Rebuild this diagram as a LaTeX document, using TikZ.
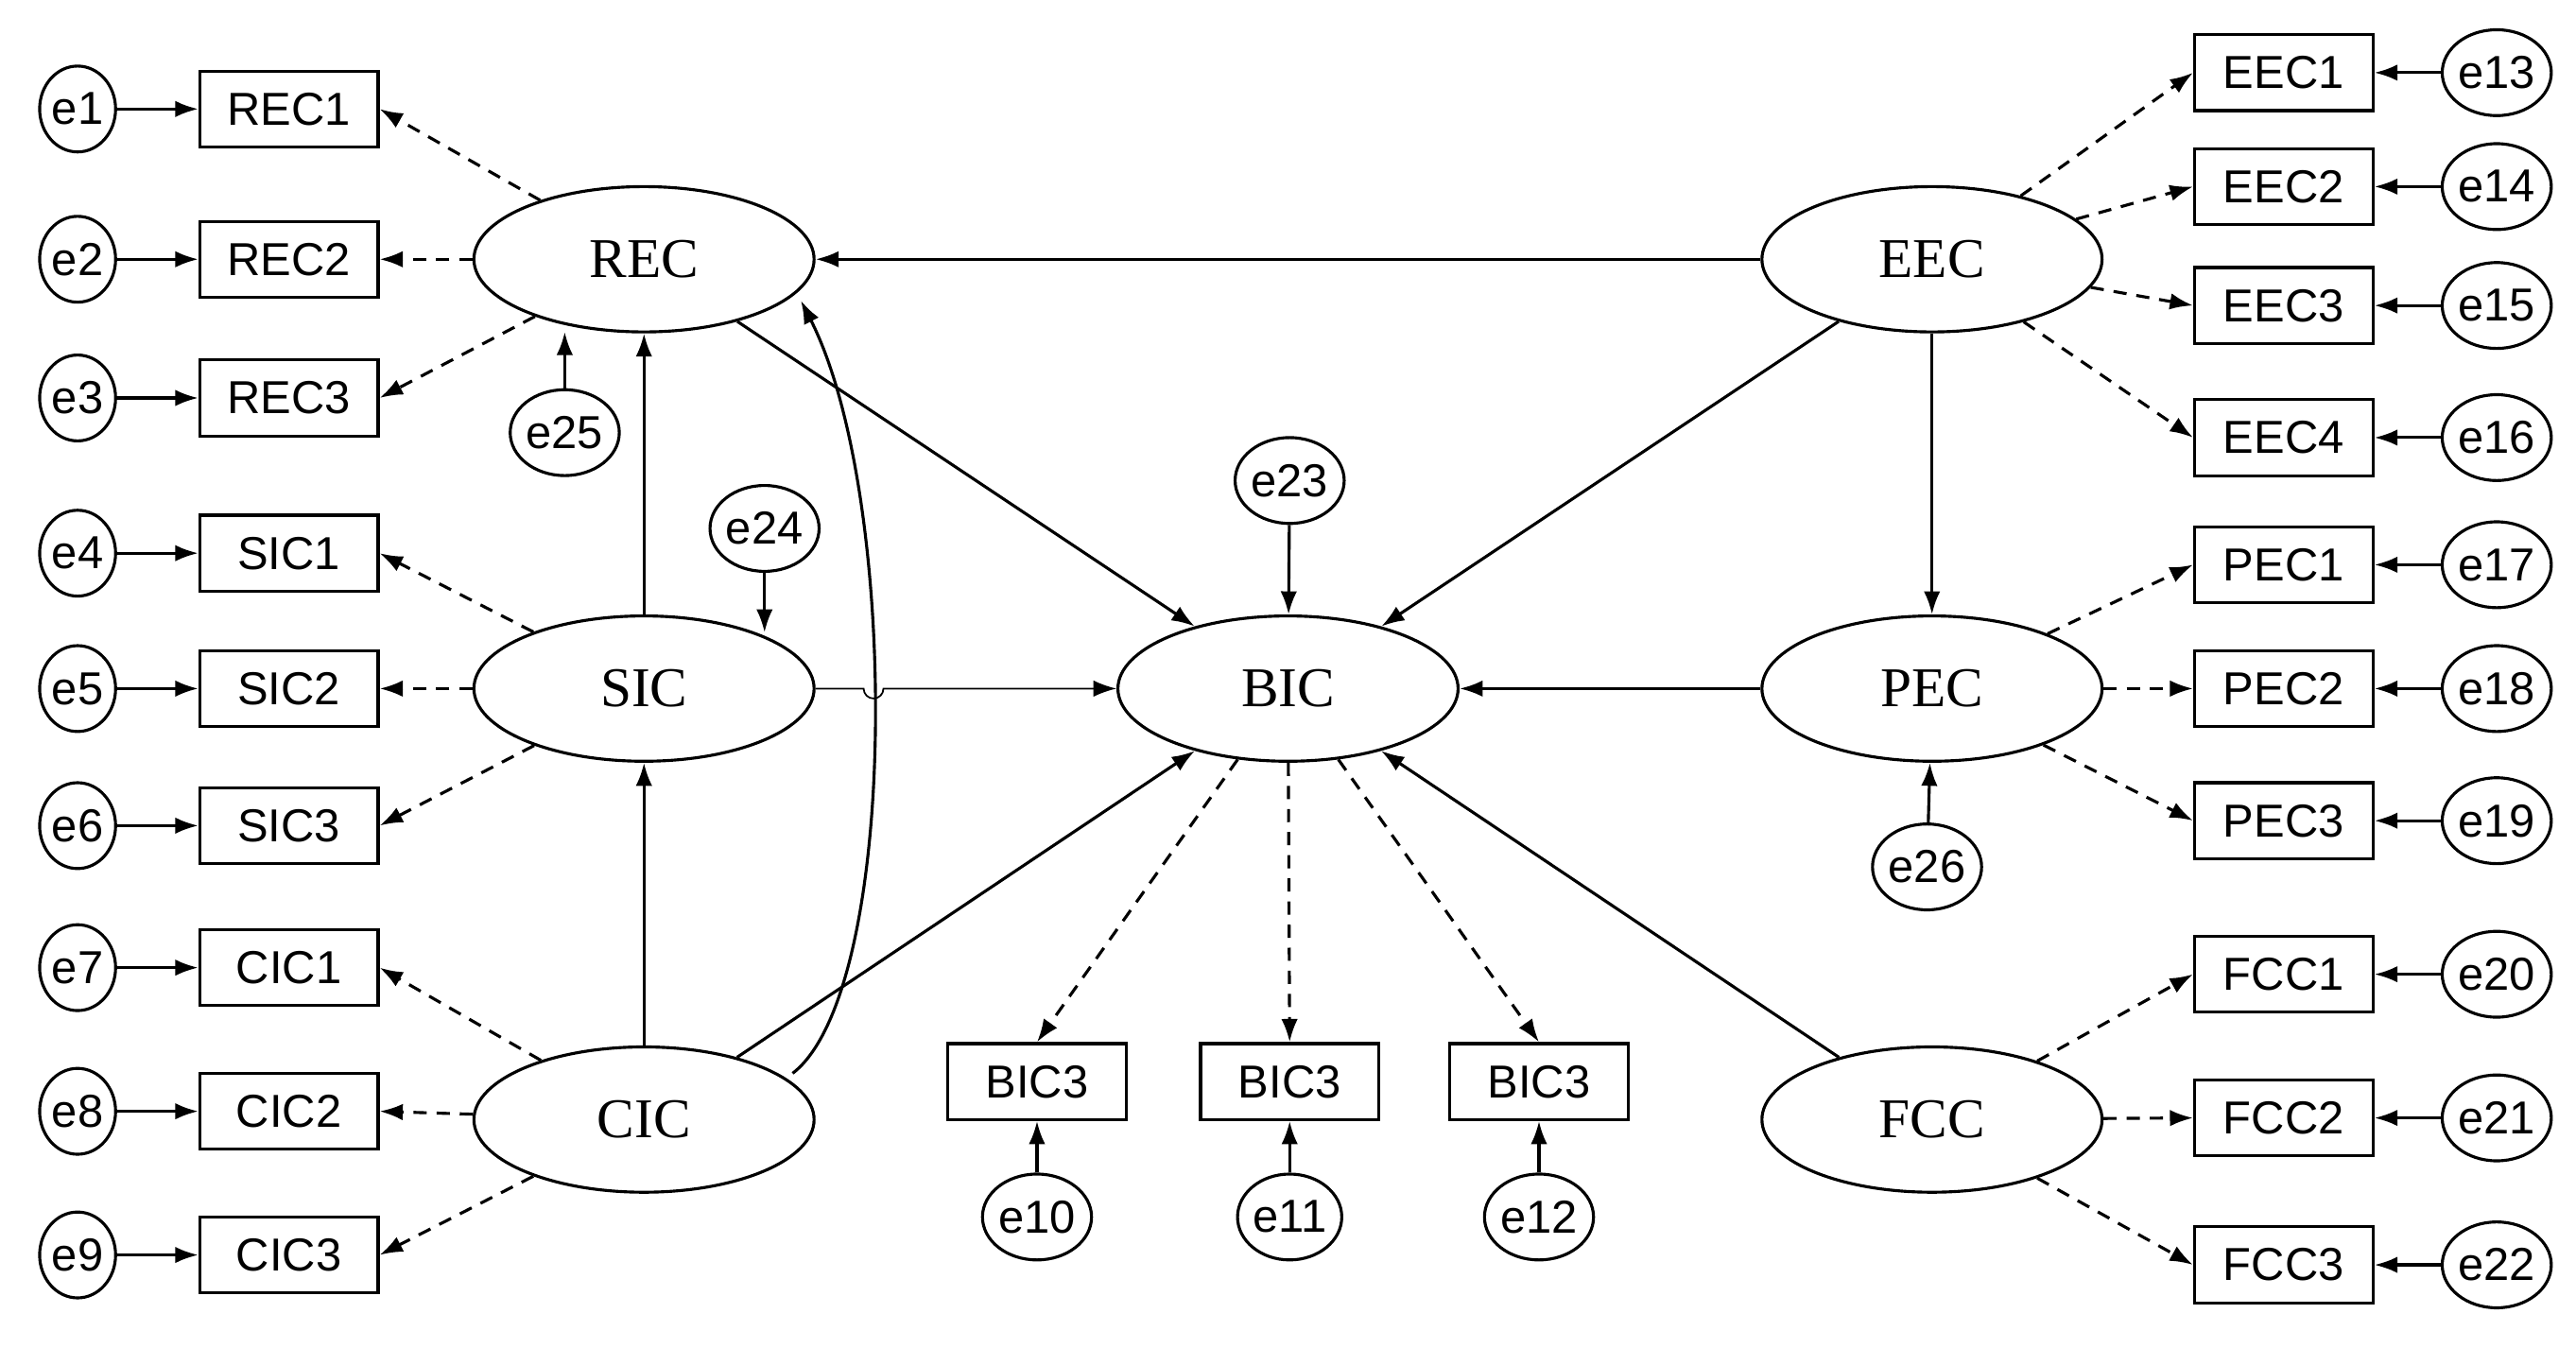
\documentclass[tikz,border=0pt]{standalone}
\usepackage{fontspec}
\setmainfont{Liberation Serif}
\newfontfamily\sansf{Liberation Sans}
\usetikzlibrary{shapes.geometric,arrows.meta}
\begin{document}
\begin{tikzpicture}[x=0.5pt,y=-0.5pt,line width=0.9pt,
  lat/.style={ellipse,draw,minimum width=103pt,minimum height=44pt,inner sep=0,font=\fontsize{17}{17}\selectfont},
  obs/.style={rectangle,draw,minimum width=54pt,minimum height=23pt,inner sep=0,font=\sansf\fontsize{14}{14}\selectfont},
  err/.style={ellipse,draw,minimum width=23pt,minimum height=26pt,inner sep=0,font=\sansf\fontsize{14}{14}\selectfont},
  arr/.style={-{Latex[length=7pt,width=5pt]}},
  dsh/.style={arr,dashed,dash pattern=on 4pt off 3pt}]
\useasboundingbox (0,0) rectangle (1560,816);
% latent
\node[lat] (REC) at (390,157) {REC};
\node[lat] (SIC) at (390,417) {SIC};
\node[lat] (CIC) at (390,678) {CIC};
\node[lat] (BIC) at (780,417) {BIC};
\node[lat] (EEC) at (1170,157) {EEC};
\node[lat] (PEC) at (1170,417) {PEC};
\node[lat] (FCC) at (1170,678) {FCC};
% left indicators
\foreach \n/\y/\e in {REC1/66/e1,REC2/157/e2,REC3/241/e3,SIC1/335/e4,SIC2/417/e5,SIC3/500/e6,CIC1/586/e7,CIC2/673/e8,CIC3/760/e9}{
  \node[obs] (\n) at (175,\y) {\n};
  \node[err] (\e) at (47,\y) {\e};
  \draw[arr] (\e) -- (\n);
}
\foreach \n/\l in {REC1/REC,REC2/REC,REC3/REC,SIC1/SIC,SIC2/SIC,SIC3/SIC,CIC1/CIC,CIC2/CIC,CIC3/CIC}{
  \draw[dsh] (\l) -- (\n.east);
}
% right indicators
\foreach \n/\y/\e in {EEC1/44/e13,EEC2/113/e14,EEC3/185/e15,EEC4/265/e16,PEC1/342/e17,PEC2/417/e18,PEC3/497/e19,FCC1/590/e20,FCC2/677/e21,FCC3/766/e22}{
  \node[obs] (\n) at (1383,\y) {\n};
  \node[err] (\e) at (1512,\y) {\e};
  \draw[arr] (\e) -- (\n);
}
\foreach \n/\l in {EEC1/EEC,EEC2/EEC,EEC3/EEC,EEC4/EEC,PEC1/PEC,PEC2/PEC,PEC3/PEC,FCC1/FCC,FCC2/FCC,FCC3/FCC}{
  \draw[dsh] (\l) -- (\n.west);
}
% bottom indicators
\foreach \n/\x/\e in {b1/628/e10,b2/781/e11,b3/932/e12}{
  \node[obs] (\n) at (\x,655) {BIC3};
  \node[err] (\e) at (\x,737) {\e};
  \draw[arr] (\e) -- (\n);
  \draw[dsh] (BIC) -- (\n.north);
}
% disturbances
\node[err] (e25) at (342,262) {e25};
\node[err] (e24) at (463,320) {e24};
\node[err] (e23) at (781,291) {e23};
\node[err] (e26) at (1167,525) {e26};
\draw[arr] (e25) -- (342,201);
\draw[arr] (e24) -- (463,383);
\draw[arr] (e23) -- (BIC);
\draw[arr] (e26) -- (PEC);
% structural
\draw[arr] (EEC) -- (REC);
\draw[arr] (REC) -- (BIC);
\draw[arr] (EEC) -- (BIC);
\draw[arr] (EEC) -- (PEC);
\draw[arr] (PEC) -- (BIC);
\draw[arr] (FCC) -- (BIC);
\draw[arr] (SIC) -- (REC);
\draw[arr] (CIC) -- (SIC);
\draw[arr] (CIC) -- (BIC);
\draw[arr] (480,650) .. controls (545,600) and (545,300) .. (485,182);
\draw[arr,line width=0.5pt] (SIC.east) -- (523,417) arc[start angle=180,end angle=0,radius=6] -- (BIC.west);
\end{tikzpicture}
\end{document}
